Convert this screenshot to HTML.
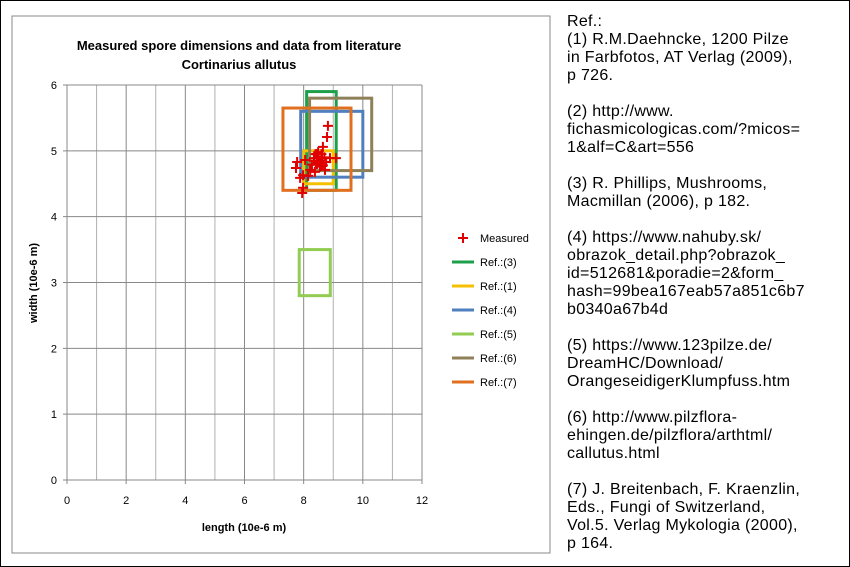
<!DOCTYPE html>
<html><head><meta charset="utf-8"><style>
body{margin:0;width:850px;height:567px;overflow:hidden;background:#fff;font-family:"Liberation Sans",sans-serif}
#wrap{position:absolute;left:0;top:0;width:848px;height:565px;border:1px solid #000}
#refs{position:absolute;left:567px;top:13px;font-size:16px;line-height:18px;color:#000;white-space:pre;letter-spacing:0.3px}
</style></head><body>
<div id="wrap"></div>
<svg id="chart" width="850" height="567" style="position:absolute;left:0;top:0"></svg>
<div id="refs">Ref.:
(1) R.M.Daehncke, 1200 Pilze
in Farbfotos, AT Verlag (2009),
p 726.

(2) http://www.
fichasmicologicas.com/?micos=
1&amp;alf=C&amp;art=556

(3) R. Phillips, Mushrooms,
Macmillan (2006), p 182.

(4) https://www.nahuby.sk/
obrazok_detail.php?obrazok_
id=512681&amp;poradie=2&amp;form_
hash=99bea167eab57a851c6b7
b0340a67b4d

(5) https://www.123pilze.de/
DreamHC/Download/
OrangeseidigerKlumpfuss.htm

(6) http://www.pilzflora-
ehingen.de/pilzflora/arthtml/
callutus.html

(7) J. Breitenbach, F. Kraenzlin,
Eds., Fungi of Switzerland,
Vol.5. Verlag Mykologia (2000),
p 164.</div>
<script>
const xTicks=[0,2,4,6,8,10,12];
const yTicks=[0,1,2,3,4,5,6];
const refNames=["Ref.:(3)","Ref.:(1)","Ref.:(4)","Ref.:(5)","Ref.:(6)","Ref.:(7)"];
const refColors=["#1ea04b","#f5c000","#4f7fbf","#92cc52","#8e8059","#e07020"];
const refXmin=[8.1,8.0,7.9,7.85,8.2,7.3];
const refXmax=[9.1,9.0,10.0,8.9,10.3,9.6];
const refYmin=[4.4,4.5,4.6,2.8,4.7,4.4];
const refYmax=[5.9,5.0,5.6,3.5,5.8,5.65];
const measL=[8.82,8.79,8.65,8.49,8.05,7.78,7.74,7.98,8.22,8.35,8.49,8.62,8.76,8.89,8.28,8.55,8.15,9.09,7.98,7.95,8.38,8.72,7.88,8.45,8.6,8.4,8.5,8.6,8.7,8.45,8.55,8.65,8.35];
const measW=[5.38,5.21,5.06,4.98,4.86,4.83,4.74,4.63,4.71,4.89,4.83,4.89,4.83,4.89,4.79,4.76,4.62,4.89,4.44,4.36,4.68,4.71,4.59,4.95,4.8,4.95,4.9,4.95,4.9,4.8,4.85,4.78,4.85];
const svg=document.getElementById('chart');const NS='http://www.w3.org/2000/svg';
const X=v=>67+v*(422-67)/12, Y=v=>480-v*(480-85)/6;
function mk(t,a,p){const e=document.createElementNS(NS,t);for(const k in a)e.setAttribute(k,a[k]);(p||svg).appendChild(e);return e;}
const box=mk('rect',{x:12,y:16,width:538,height:537,fill:'none',stroke:'#888','stroke-width':1});


for(let i=0;i<=12;i++){const l=mk('line',{x1:X(i),x2:X(i),y1:Y(0),y2:Y(6),stroke:i%2?'#b0b0b0':'#888','stroke-width':1});

}
yTicks.forEach(v=>{const l=mk('line',{x1:X(0)-4,x2:X(12),y1:Y(v),y2:Y(v),stroke:'#888'});


const t=mk('text',{x:X(0)-10,y:Y(v)+4,'font-size':11,'text-anchor':'end'});t.textContent=v;

});
xTicks.forEach(v=>{mk('line',{x1:X(v),x2:X(v),y1:Y(0),y2:Y(0)+4,stroke:'#888'});
const t=mk('text',{x:X(v),y:Y(0)+24,'font-size':11,'text-anchor':'middle'});t.textContent=v;

});
refNames.forEach((n,i)=>{const r=mk('rect',{x:X(refXmin[i]),y:Y(refYmax[i]),width:X(refXmax[i])-X(refXmin[i]),height:Y(refYmin[i])-Y(refYmax[i]),fill:'none',stroke:refColors[i],'stroke-width':3});

});
measL.forEach((v,i)=>{const g=mk('path',{d:`M${X(v)-5},${Y(measW[i])}h10M${X(v)},${Y(measW[i])-5}v10`,stroke:'#e00000','stroke-width':2});

});
const leg=['Measured'].concat(refNames);
leg.forEach((n,i)=>{const y=238+i*24;
if(i==0)mk('path',{d:`M${458},${y}h10M463,${y-5}v10`,stroke:'#e00000','stroke-width':2});
else mk('line',{x1:452,x2:474,y1:y,y2:y,stroke:refColors[i-1],'stroke-width':3});
const t=mk('text',{x:480,y:y+4,'font-size':11});t.textContent=n;

});
const t1=mk('text',{x:239,y:50,'font-size':13,'font-weight':'bold','text-anchor':'middle'});t1.textContent='Measured spore dimensions and data from literature';


const t2=mk('text',{x:239,y:69,'font-size':13,'font-weight':'bold','text-anchor':'middle'});t2.textContent='Cortinarius allutus';


const xt=mk('text',{x:244,y:531,'font-size':11,'font-weight':'bold','text-anchor':'middle'});xt.textContent='length (10e-6 m)';


const yt=mk('text',{x:0,y:0,'font-size':11,'font-weight':'bold','text-anchor':'middle',transform:'translate(37,283) rotate(-90)'});yt.textContent='width (10e-6 m)';


</script>
</body></html>
